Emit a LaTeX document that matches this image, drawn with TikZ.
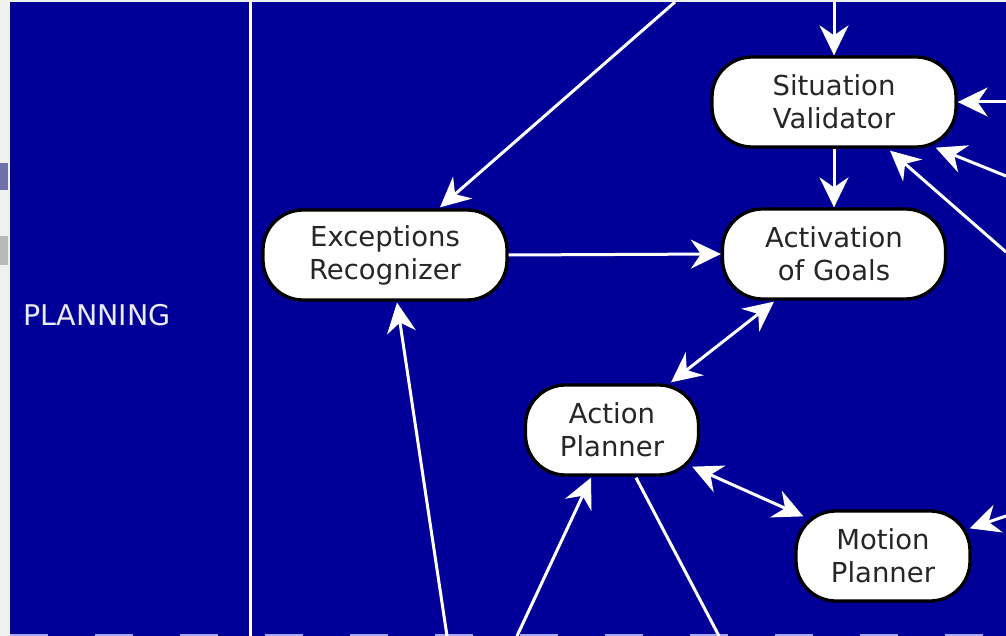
\documentclass[tikz,border=0pt]{standalone}
\usepackage{fontspec}
\setmainfont{DejaVu Sans}
\usetikzlibrary{arrows.meta,calc}
\definecolor{planbg}{HTML}{000099}
\definecolor{tabband}{RGB}{112,112,168}

\begin{document}
\begin{tikzpicture}[
  x=1pt, y=-1pt,
  >={Stealth[length=30pt, width=29pt, inset=10pt]},
  module/.style={rectangle, rounded corners=40pt, draw=black, line width=3.3pt,
                 fill=white, minimum height=90pt, inner sep=0pt,
                 align=center, text=black!85,
                 font=\fontsize{27.5}{33}\selectfont},
  flow/.style={->, draw=white, line width=3pt},
  link/.style={<->, draw=white, line width=3pt}
]
\useasboundingbox (0,0) rectangle (1006,636);

% background and frame
\fill[gray!12] (0,0) rectangle (1006,636);
\fill[tabband] (0,163) rectangle (8,190);
\fill[gray!55] (0,236) rectangle (8,265);
\fill[planbg] (10,2) rectangle (1006,636);
\draw[white, line width=3pt] (250,2) -- (250,636);
\draw[blue!35!white, line width=2pt, dash pattern=on 38pt off 47pt] (10,635) -- (1006,635);

\node[text=white!92!planbg, font=\fontsize{28.5}{33}\selectfont] (lane) at (97,315) {PLANNING};

\node[module, minimum width=244pt] (sv) at (834,102) {Situation\\Validator};
\node[module, minimum width=223pt] (ag) at (834,254) {Activation\\of Goals};
\node[module, minimum width=244pt] (er) at (385,255) {Exceptions\\Recognizer};
\node[module, minimum width=173pt] (ap) at (612,430) {Action\\Planner};
\node[module, minimum width=174pt] (mp) at (883,556) {Motion\\Planner};

% ends outside the picture
\coordinate (topA) at (834,2);
\coordinate (topB) at (675,2);
\coordinate (rA) at (1006,102);
\coordinate (rB) at (1006,176);
\coordinate (rC) at (1006,252);
\coordinate (rD) at (1006,516);
\coordinate (bA) at (447,636);
\coordinate (bB) at (517,636);
\coordinate (bC) at (719,636);

% Main flow
\draw[flow] (topA) -- (sv.north);
\draw[flow] (topB) -- ($(er.north)+(55,-1)$);
\draw[flow] (sv.south) -- (ag.north);
\draw[flow] (er.east) -- (ag.west);
\draw[link] ($(ag.south)+(-60,1)$) -- ($(ap.north)+(59,-1)$);
\draw[link] ($(ap.south east)+(-8,-10)$) -- ($(mp.north west)+(9,7)$);

% inputs from the right
\draw[flow] (rA) -- (sv.east);
\draw[flow] (rB) -- ($(sv.south east)+(-22,-1)$);
\draw[flow] (rC) -- ($(sv.south)+(56,2)$);
\draw[flow] (rD) -- ($(mp.north east)+(-2,19)$);

% from / to the layer below
\draw[flow] (bA) -- ($(er.south)+(12,1)$);
\draw[flow] (bB) -- ($(ap.south)+(-21,1)$);
\draw[white, line width=3pt] ($(ap.south)+(24,1)$) -- (bC);

\end{tikzpicture}
\end{document}
